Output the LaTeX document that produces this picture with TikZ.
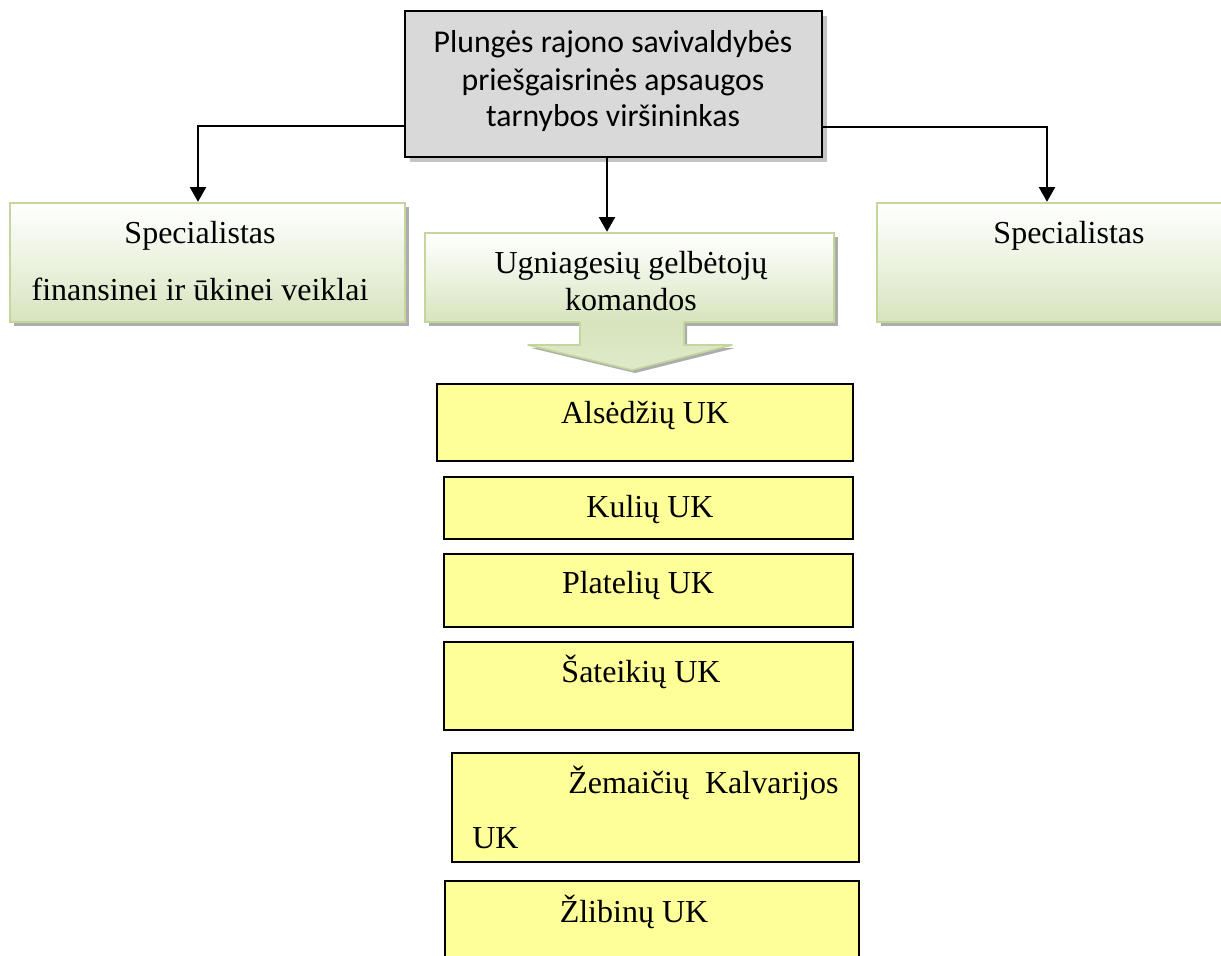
\documentclass[tikz,border=0pt]{standalone}
\usepackage{fontspec}
\setmainfont{Liberation Serif}
\newfontfamily\calib{Carlito}
\usetikzlibrary{arrows.meta,fit,shadows,calc}
\definecolor{boxgray}{HTML}{D9D9D9}
\definecolor{shgray}{HTML}{C4C4C4}
\definecolor{gborder}{HTML}{C3D69B}
\definecolor{gbottom}{HTML}{D7E4BD}
\definecolor{gmid}{HTML}{ECF2E0}
\definecolor{dotgray}{HTML}{ADADAD}
\definecolor{ykfill}{HTML}{FFFF99}
\tikzset{
  headbox/.style={draw=black, line width=1.5pt, fill=boxgray, inner sep=0pt,
    general shadow={fill=shgray, shadow xshift=3.75pt, shadow yshift=-3.75pt}},
  greenbox/.style={draw=gborder, line width=1.8pt, inner sep=0pt,
    top color=white, bottom color=gbottom, middle color=gmid,
    general shadow={fill=dotgray, shadow xshift=3pt, shadow yshift=-3pt}},
  ukbox/.style={draw=black, line width=1.4pt, fill=ykfill, inner sep=0pt},
  conn/.style={draw=black, line width=1.5pt, -{Triangle[width=12pt,length=11pt]}},
  lbl/.style={inner sep=0pt, anchor=base, font=\fontsize{24pt}{27.75pt}\selectfont},
  lblw/.style={lbl, anchor=base west},
  hlbl/.style={inner sep=0pt, anchor=base, align=center,
    font=\calib\fontsize{23.8pt}{27.75pt}\selectfont},
}
\begin{document}
\begin{tikzpicture}[x=0.75pt,y=-0.75pt]
\useasboundingbox (0,0) rectangle (1221,956);
\clip (0,0) rectangle (1221,956);

% head box
\node[headbox, fit={(405,11) (822,157)}] (head) {};
\node[hlbl] (headtxt) at (613,127) {Plungės rajono savivaldybės\\priešgaisrinės apsaugos\\tarnybos viršininkas};

% green boxes
\node[greenbox, fit={(10,203) (405,322)}] (spec1) {};
\node[greenbox, fit={(425,233) (834,322)}] (ugk) {};
\node[greenbox, fit={(877,203) (1235,322)}] (spec2) {};

\node[lbl, align=center] (spec1txt) at (200,300) {Specialistas\\[15pt]finansinei ir ūkinei veiklai};
\node[lbl, align=center] (ugktxt) at (631,310) {Ugniagesių gelbėtojų\\komandos};
\node[lbl] (spec2txt) at (1069,243) {Specialistas};

% block arrow below the teams box
\fill[dotgray] (583,325) -- (687,325) -- (687,348) -- (735,348) -- (635,373) -- (531,348) -- (583,348) -- cycle;
\shade[top color=gbottom, bottom color=gbottom!80!white] (580,321) -- (684,321) -- (684,345) -- (732,345) -- (632,370) -- (528,345) -- (580,345) -- cycle;
\draw[gborder, line width=1.2pt, line join=round] (580,322) -- (580,345) -- (528,345) -- (632,370) -- (732,345) -- (684,345) -- (684,322);

% connectors
\coordinate (lbend) at (198,126);
\coordinate (rbend) at (1047,127);
\coordinate (mid) at (607,0);
\draw[conn] (head.west |- lbend) -| (spec1.north -| lbend);
\draw[conn] (head.east |- rbend) -| (spec2.north -| rbend);
\draw[conn] (head.south -| mid) -- (ugk.north -| mid);

% UK boxes
\node[ukbox, fit={(437,384) (853,461)}] (uk1) {};
\node[ukbox, fit={(444,477) (853,539)}] (uk2) {};
\node[ukbox, fit={(444,554) (853,627)}] (uk3) {};
\node[ukbox, fit={(444,642) (853,730)}] (uk4) {};
\node[ukbox, fit={(452,753) (859,862)}] (uk5) {};
\node[ukbox, fit={(445,881) (859,975)}] (uk6) {};

\node[lbl] (uk1txt) at (645,423) {Alsėdžių UK};
\node[lbl] (uk2txt) at (650,517) {Kulių UK};
\node[lbl] (uk3txt) at (638,593) {Platelių UK};
\node[lbl] (uk4txt) at (641,682) {Šateikių UK};
\node[lblw] (uk5txta) at (568,793) {Žemaičių\ \ Kalvarijos};
\node[lblw] (uk5txtb) at (472,848) {UK};
\node[lbl] (uk6txt) at (634,922) {Žlibinų UK};
\end{tikzpicture}
\end{document}
